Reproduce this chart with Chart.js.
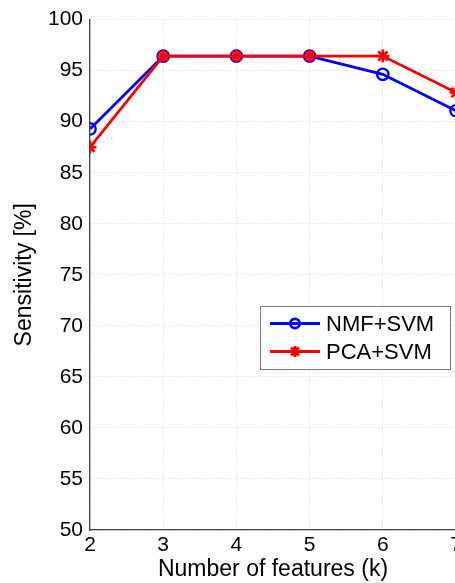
<!DOCTYPE html>
<html>
<head>
<meta charset="utf-8">
<script src="https://cdn.jsdelivr.net/npm/chart.js@4/dist/chart.umd.min.js"></script>
<style>
  html, body { margin: 0; padding: 0; background: #fff; overflow: hidden; }
  #wrap { width: 520px; height: 583px; position: relative; }
</style>
</head>
<body>
<div id="wrap"><canvas id="c" width="520" height="583"></canvas></div>
<script>
const features = [2, 3, 4, 5, 6, 7];
const nmfSvm = [89.29, 96.43, 96.43, 96.43, 94.64, 91.07];
const pcaSvm = [87.50, 96.43, 96.43, 96.43, 96.43, 92.86];
const seriesNames = ['NMF+SVM', 'PCA+SVM'];
const yTicks = [50, 55, 60, 65, 70, 75, 80, 85, 90, 95, 100];
const xTitle = 'Number of features (k)';
const yTitle = 'Sensitivity [%]';

const FONT = '"Liberation Sans", Arial, Helvetica, sans-serif';

const legendPlugin = {
  id: 'boxLegend',
  afterDraw(chart) {
    const ctx = chart.ctx;
    const bx = 260, by = 306, bw = 190, bh = 63;
    ctx.save();
    ctx.fillStyle = '#fff';
    ctx.fillRect(bx, by, bw, bh);
    ctx.strokeStyle = '#7a7a7a';
    ctx.lineWidth = 1;
    ctx.strokeRect(bx + 0.5, by + 0.5, bw, bh);
    const rows = [323.5, 351.5];
    chart.data.datasets.forEach((ds, i) => {
      const y = rows[i];
      ctx.strokeStyle = ds.borderColor;
      ctx.lineWidth = ds.borderWidth;
      ctx.beginPath();
      ctx.moveTo(270, y);
      ctx.lineTo(320, y);
      ctx.stroke();
      ctx.fillStyle = ds.pointBackgroundColor;
      ctx.strokeStyle = ds.pointBorderColor;
      Chart.helpers.drawPoint(ctx, {
        pointStyle: ds.pointStyle,
        rotation: 0,
        radius: ds.pointRadius - 1,
        borderWidth: ds.pointBorderWidth
      }, 295, y);
      ctx.fillStyle = '#000';
      ctx.font = '22px ' + FONT;
      ctx.textBaseline = 'middle';
      ctx.textAlign = 'left';
      ctx.fillText(ds.label, 326, y + 1);
    });
    ctx.restore();
  }
};

const toPts = arr => features.map((x, i) => ({ x: x, y: arr[i] }));

new Chart(document.getElementById('c'), {
  type: 'line',
  data: {
    datasets: [
      {
        label: seriesNames[0],
        data: toPts(nmfSvm),
        borderColor: '#0000ff',
        backgroundColor: '#0000ff',
        borderWidth: 2.8,
        pointStyle: 'circle',
        pointRadius: 5.7,
        pointBorderWidth: 2.3,
        pointBorderColor: '#0000ff',
        pointBackgroundColor: 'rgba(0,0,0,0)',
        tension: 0,
        order: 2
      },
      {
        label: seriesNames[1],
        data: toPts(pcaSvm),
        borderColor: '#ff0000',
        backgroundColor: '#ff0000',
        borderWidth: 2.8,
        pointStyle: 'star',
        pointRadius: 6.5,
        pointBorderWidth: 2.6,
        pointBorderColor: '#ff0000',
        pointBackgroundColor: '#ff0000',
        tension: 0,
        order: 1
      }
    ]
  },
  options: {
    responsive: false,
    animation: false,
    devicePixelRatio: 1,
    layout: { padding: { left: 0, right: 64, top: 17, bottom: 0 } },
    plugins: {
      legend: { display: false },
      tooltip: { enabled: false }
    },
    scales: {
      x: {
        type: 'linear',
        min: 2,
        max: 7,
        ticks: {
          stepSize: 1,
          padding: 3,
          color: '#000',
          font: { family: FONT, size: 21 }
        },
        grid: { color: '#d6d6d6', lineWidth: 1, drawTicks: false },
        border: { display: true, color: '#444', width: 1.3, dash: [1, 2] },
        title: {
          display: true,
          text: xTitle,
          color: '#000',
          font: { family: FONT, size: 23 },
          padding: { top: 0, bottom: 0 }
        },
        afterFit(scale) { scale.height = 53; }
      },
      y: {
        min: 50,
        max: 100,
        afterBuildTicks(scale) { scale.ticks = yTicks.map(v => ({ value: v })); },
        ticks: {
          padding: 7,
          color: '#000',
          font: { family: FONT, size: 21 }
        },
        grid: { color: '#d6d6d6', lineWidth: 1, drawTicks: false },
        border: { display: true, color: '#444', width: 1.3, dash: [1, 2] },
        title: {
          display: true,
          text: yTitle,
          color: '#000',
          font: { family: FONT, size: 23 },
          padding: { top: 11, bottom: 0 }
        },
        afterFit(scale) { scale.width = 90; }
      }
    }
  },
  plugins: [legendPlugin]
});
</script>
</body>
</html>
